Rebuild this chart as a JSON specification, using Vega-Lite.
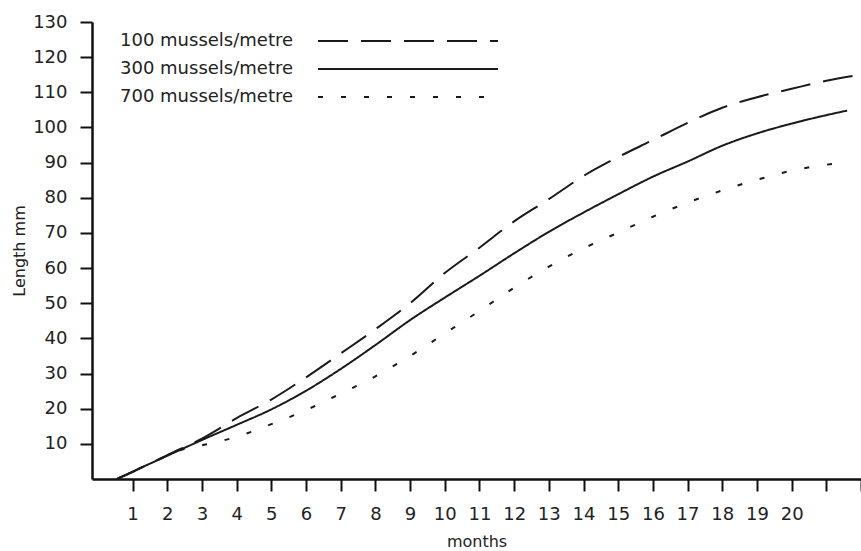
{
  "$schema": "https://vega.github.io/schema/vega-lite/v6.json",
  "width": 769,
  "height": 457,
  "autosize": {"type": "none"},
  "padding": {"left": 92, "top": 22, "right": 0, "bottom": 72},
  "background": "white",
  "config": {
    "font": "DejaVu Sans",
    "view": {"stroke": null},
    "axis": {"grid": false, "domainColor": "#111", "domainWidth": 2.5, "tickColor": "#111", "tickWidth": 2, "labelColor": "#222", "titleColor": "#222", "labelFont": "DejaVu Sans", "titleFont": "DejaVu Sans", "titleFontWeight": "normal"}
  },
  "data": {
    "values": [
      {"series": "100 mussels/metre", "month": 0.55, "length": 0},
      {"series": "100 mussels/metre", "month": 1, "length": 2.0},
      {"series": "100 mussels/metre", "month": 2, "length": 6.8},
      {"series": "100 mussels/metre", "month": 3, "length": 11.5},
      {"series": "100 mussels/metre", "month": 4, "length": 17.3},
      {"series": "100 mussels/metre", "month": 5, "length": 22.6},
      {"series": "100 mussels/metre", "month": 6, "length": 28.9},
      {"series": "100 mussels/metre", "month": 7, "length": 35.7},
      {"series": "100 mussels/metre", "month": 8, "length": 42.6},
      {"series": "100 mussels/metre", "month": 9, "length": 50.0},
      {"series": "100 mussels/metre", "month": 10, "length": 58.6},
      {"series": "100 mussels/metre", "month": 11, "length": 65.8},
      {"series": "100 mussels/metre", "month": 12, "length": 73.3},
      {"series": "100 mussels/metre", "month": 13, "length": 79.6},
      {"series": "100 mussels/metre", "month": 14, "length": 86.2},
      {"series": "100 mussels/metre", "month": 15, "length": 91.6},
      {"series": "100 mussels/metre", "month": 16, "length": 96.4},
      {"series": "100 mussels/metre", "month": 17, "length": 101.3},
      {"series": "100 mussels/metre", "month": 18, "length": 105.6},
      {"series": "100 mussels/metre", "month": 19, "length": 108.6},
      {"series": "100 mussels/metre", "month": 20, "length": 111.0},
      {"series": "100 mussels/metre", "month": 21, "length": 113.3},
      {"series": "100 mussels/metre", "month": 21.9, "length": 114.9},
      {"series": "300 mussels/metre", "month": 0.55, "length": 0},
      {"series": "300 mussels/metre", "month": 1, "length": 2.1},
      {"series": "300 mussels/metre", "month": 2, "length": 6.6},
      {"series": "300 mussels/metre", "month": 3, "length": 11.1},
      {"series": "300 mussels/metre", "month": 4, "length": 15.4},
      {"series": "300 mussels/metre", "month": 5, "length": 19.8},
      {"series": "300 mussels/metre", "month": 6, "length": 25.1},
      {"series": "300 mussels/metre", "month": 7, "length": 31.3},
      {"series": "300 mussels/metre", "month": 8, "length": 38.1},
      {"series": "300 mussels/metre", "month": 9, "length": 45.2},
      {"series": "300 mussels/metre", "month": 10, "length": 51.6},
      {"series": "300 mussels/metre", "month": 11, "length": 57.8},
      {"series": "300 mussels/metre", "month": 12, "length": 64.2},
      {"series": "300 mussels/metre", "month": 13, "length": 70.3},
      {"series": "300 mussels/metre", "month": 14, "length": 75.8},
      {"series": "300 mussels/metre", "month": 15, "length": 81.0},
      {"series": "300 mussels/metre", "month": 16, "length": 86.0},
      {"series": "300 mussels/metre", "month": 17, "length": 90.3},
      {"series": "300 mussels/metre", "month": 18, "length": 94.8},
      {"series": "300 mussels/metre", "month": 19, "length": 98.3},
      {"series": "300 mussels/metre", "month": 20, "length": 101.1},
      {"series": "300 mussels/metre", "month": 21, "length": 103.5},
      {"series": "300 mussels/metre", "month": 21.6, "length": 104.8},
      {"series": "700 mussels/metre", "month": 0.55, "length": 0},
      {"series": "700 mussels/metre", "month": 1, "length": 2.1},
      {"series": "700 mussels/metre", "month": 2, "length": 6.6},
      {"series": "700 mussels/metre", "month": 2.5, "length": 8.6},
      {"series": "700 mussels/metre", "month": 3, "length": 9.6},
      {"series": "700 mussels/metre", "month": 4, "length": 12.0},
      {"series": "700 mussels/metre", "month": 5, "length": 15.6},
      {"series": "700 mussels/metre", "month": 6, "length": 19.6},
      {"series": "700 mussels/metre", "month": 7, "length": 24.3},
      {"series": "700 mussels/metre", "month": 8, "length": 29.2},
      {"series": "700 mussels/metre", "month": 9, "length": 35.0},
      {"series": "700 mussels/metre", "month": 10, "length": 41.4},
      {"series": "700 mussels/metre", "month": 11, "length": 47.8},
      {"series": "700 mussels/metre", "month": 12, "length": 54.4},
      {"series": "700 mussels/metre", "month": 13, "length": 60.4},
      {"series": "700 mussels/metre", "month": 14, "length": 65.6},
      {"series": "700 mussels/metre", "month": 15, "length": 70.1},
      {"series": "700 mussels/metre", "month": 16, "length": 74.6},
      {"series": "700 mussels/metre", "month": 17, "length": 78.6},
      {"series": "700 mussels/metre", "month": 18, "length": 82.1},
      {"series": "700 mussels/metre", "month": 19, "length": 85.1},
      {"series": "700 mussels/metre", "month": 20, "length": 87.7},
      {"series": "700 mussels/metre", "month": 21, "length": 89.4},
      {"series": "700 mussels/metre", "month": 21.5, "length": 90.0}
    ]
  },
  "mark": {"type": "line", "interpolate": "monotone", "color": "#1a1a1a", "strokeWidth": 2},
  "encoding": {
    "x": {
      "field": "month", "type": "quantitative",
      "scale": {"domain": [-0.17, 22], "nice": false, "zero": false},
      "axis": {
        "title": "months", "values": [1,2,3,4,5,6,7,8,9,10,11,12,13,14,15,16,17,18,19,20,21,22],
        "labelExpr": "datum.value <= 20 ? datum.label : ''",
        "tickSize": 12, "labelPadding": 14, "labelFontSize": 18, "titleFontSize": 16, "titlePadding": 10, "labelFlush": false
      }
    },
    "y": {
      "field": "length", "type": "quantitative",
      "scale": {"domain": [0, 130], "nice": false},
      "axis": {
        "title": "Length mm", "values": [10,20,30,40,50,60,70,80,90,100,110,120,130],
        "tickSize": 12, "labelPadding": 13, "labelFontSize": 18, "titleFontSize": 16, "titlePadding": 5, "labelFlush": false
      }
    },
    "detail": {"field": "series"},
    "strokeDash": {
      "field": "series", "type": "nominal",
      "scale": {"domain": ["100 mussels/metre", "300 mussels/metre", "700 mussels/metre"], "range": [[30, 13], [1, 0], [5, 18]]},
      "legend": {
        "title": null, "orient": "none", "legendX": 28, "legendY": 8,
        "symbolType": "M-9,0H9", "symbolSize": 400, "symbolStrokeWidth": 2, "symbolStrokeColor": "#1a1a1a",
        "labelFontSize": 18, "labelColor": "#222", "rowPadding": 8, "labelLimit": 300,
        "encode": {
          "labels": {"update": {"x": {"value": 0}, "align": {"value": "left"}}},
          "symbols": {"update": {"x": {"value": 288}}}
        }
      }
    }
  }
}
